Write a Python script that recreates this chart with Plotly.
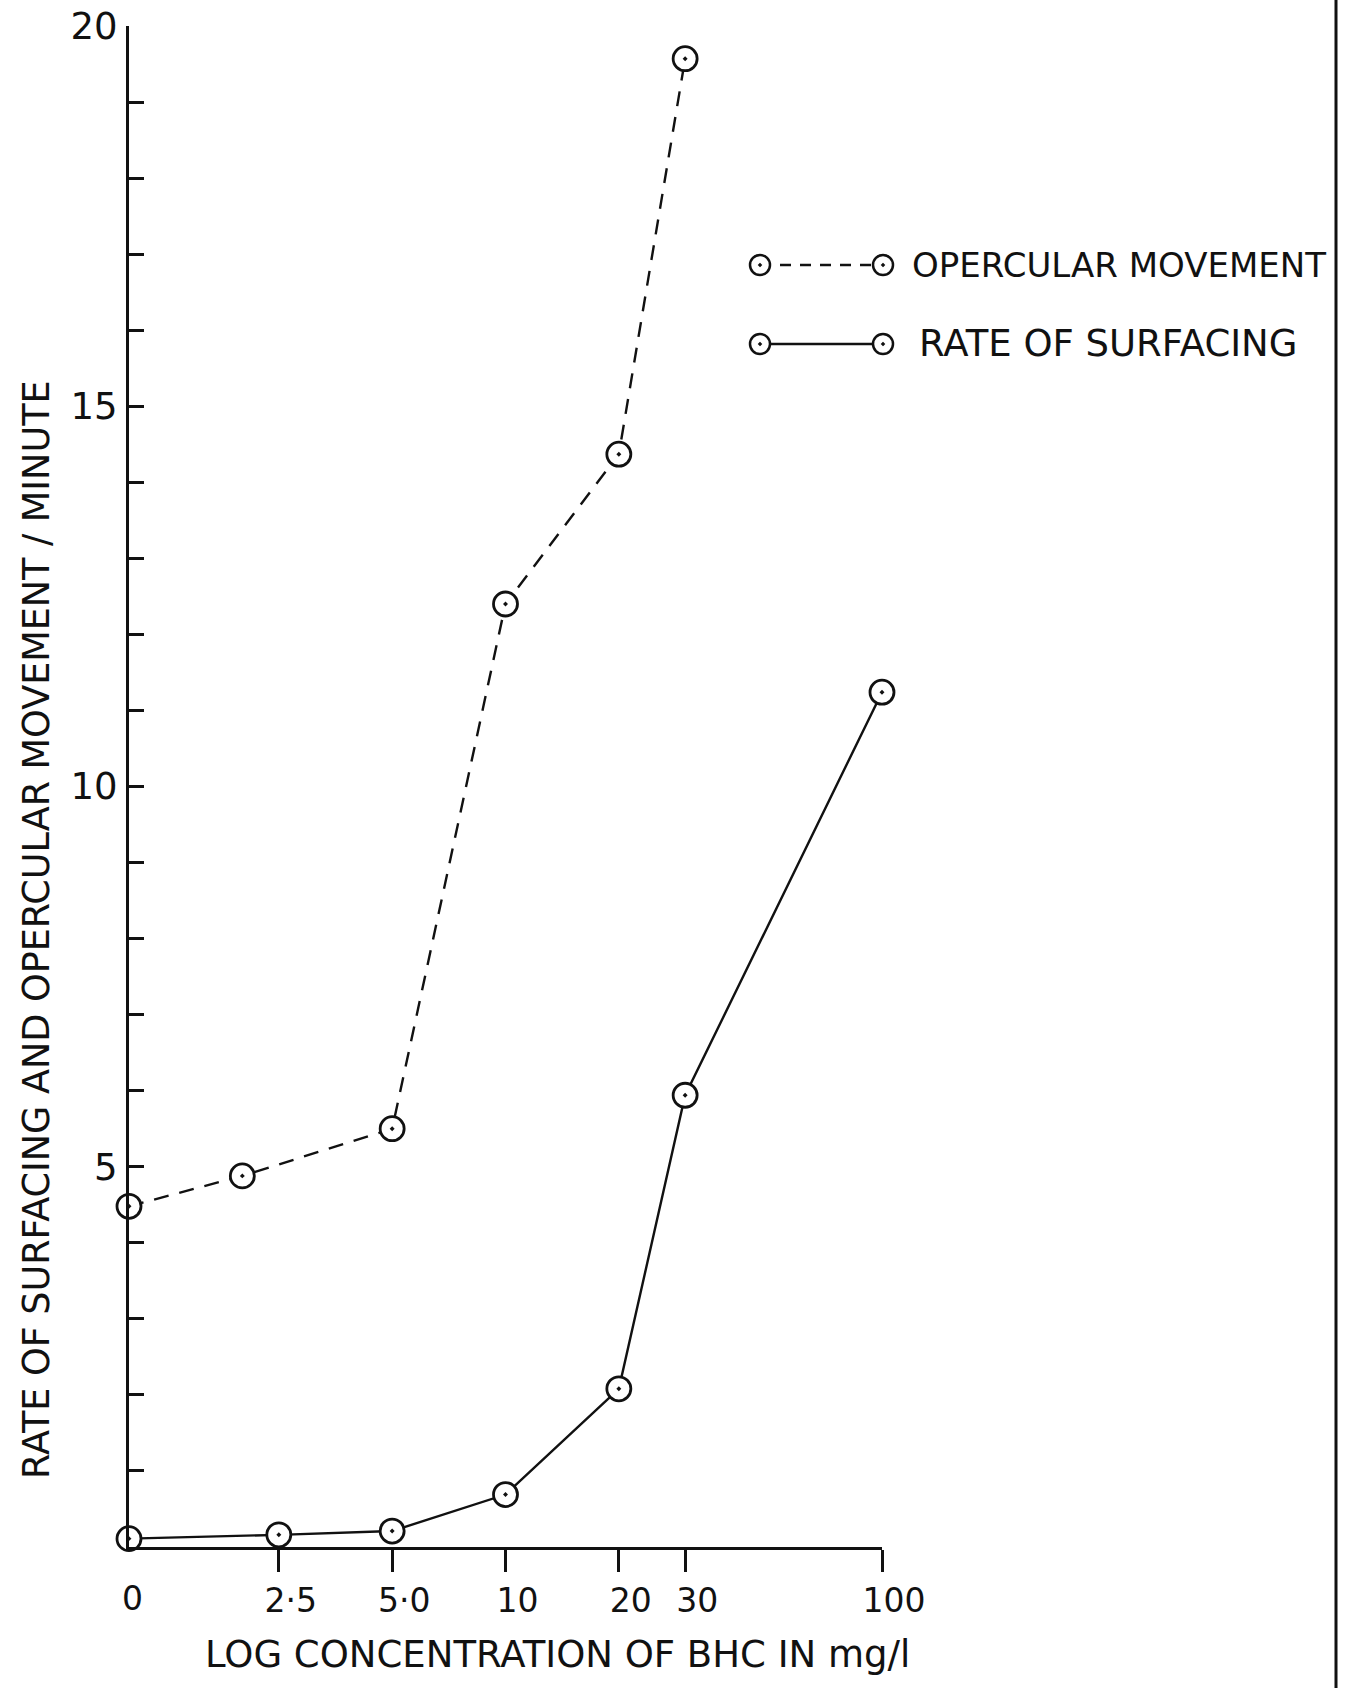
import math
import plotly.graph_objects as go

# BHC concentration (mg/l); the control ("0") is plotted at 1 on the log axis
conc_opercular = [1, 2, 5, 10, 20, 30]
opercular_rate = [4.48, 4.88, 5.50, 12.40, 14.37, 19.57]

conc_surfacing = [1, 2.5, 5, 10, 20, 30, 100]
surfacing_rate = [0.11, 0.16, 0.21, 0.69, 2.08, 5.94, 11.24]

x_tickvals = [2.5, 5, 10, 20, 30, 100]
x_ticktext = ["2·5", "5·0", "10", "20", "30", "100"]
control_label = "0"

y_tickvals = list(range(1, 21))
y_ticktext = [str(v) if v % 5 == 0 else "" for v in y_tickvals]

series_names = ["OPERCULAR MOVEMENT", "RATE OF SURFACING"]

W, H = 1353, 1688
ML, MR, MT, MB = 129, 0, 26, 141
PW = W - ML - MR
PH = H - MT - MB


def px_x(px):
    return (px - ML) / PW


def px_y(py):
    return (H - MB - py) / PH


FONT = "DejaVu Sans, Verdana, sans-serif"
INK = "#111111"

marker_style = dict(symbol="circle-dot", size=24, color="white",
                    line=dict(color=INK, width=2.8))

fig = go.Figure()

# key samples, drawn on an invisible full-page overlay axis (underneath the data)
key_x = [px_x(760), px_x(883)]
key_y = [px_y(265), px_y(344)]
key_marker = dict(symbol="circle-dot", size=20, color="white",
                  line=dict(color=INK, width=2.5))
fig.add_trace(go.Scatter(
    x=key_x, y=[key_y[0]] * 2, mode="lines+markers", cliponaxis=False,
    line=dict(color=INK, width=2.4, dash="11px,9px"),
    marker=key_marker, xaxis="x2", yaxis="y2", hoverinfo="skip"))
fig.add_trace(go.Scatter(
    x=key_x, y=[key_y[1]] * 2, mode="lines+markers", cliponaxis=False,
    line=dict(color=INK, width=2.4),
    marker=key_marker, xaxis="x2", yaxis="y2", hoverinfo="skip"))

fig.add_trace(go.Scatter(
    x=conc_opercular, y=opercular_rate, mode="lines+markers",
    name=series_names[0], cliponaxis=False,
    line=dict(color=INK, width=2.4, dash="15px,11px"),
    marker=marker_style, xaxis="x", yaxis="y"))

fig.add_trace(go.Scatter(
    x=conc_surfacing, y=surfacing_rate, mode="lines+markers",
    name=series_names[1], cliponaxis=False,
    line=dict(color=INK, width=2.4),
    marker=marker_style, xaxis="x", yaxis="y"))

annotations = [
    dict(text=series_names[0], x=px_x(910), y=key_y[0], xref="paper", yref="paper",
         xanchor="left", yanchor="middle", showarrow=False,
         font=dict(family=FONT, size=34, color=INK)),
    dict(text=series_names[1], x=px_x(917), y=key_y[1], xref="paper", yref="paper",
         xanchor="left", yanchor="middle", showarrow=False,
         font=dict(family=FONT, size=37, color=INK)),
    dict(text=control_label, x=math.log10(conc_surfacing[0]), y=px_y(1598),
         xref="x", yref="paper", xanchor="center", yanchor="middle", showarrow=False,
         xshift=3, font=dict(family=FONT, size=33, color=INK)),
    dict(text="LOG CONCENTRATION OF BHC IN mg/l", x=px_x(557), y=px_y(1655),
         xref="paper", yref="paper", xanchor="center", yanchor="middle",
         showarrow=False, font=dict(family=FONT, size=37, color=INK)),
    dict(text="RATE OF SURFACING AND OPERCULAR MOVEMENT / MINUTE",
         x=px_x(36), y=px_y(930), xref="paper", yref="paper", textangle=-90,
         xanchor="center", yanchor="middle", showarrow=False,
         font=dict(family=FONT, size=36.5, color=INK)),
]

fig.update_layout(
    width=W, height=H, autosize=False,
    margin=dict(l=ML, r=MR, t=MT, b=MB, autoexpand=False),
    paper_bgcolor="white", plot_bgcolor="rgba(0,0,0,0)",
    showlegend=False,
    font=dict(family=FONT, color=INK),
    xaxis=dict(type="log", range=[0, 2], domain=[0, px_x(882)], anchor="y",
               showline=True, linewidth=3, linecolor=INK, mirror=False,
               ticks="outside", ticklen=22, tickwidth=3, tickcolor=INK,
               tickvals=x_tickvals, ticktext=x_ticktext,
               ticklabelstandoff=0, ticklabelshift=12,
               tickfont=dict(family=FONT, size=33, color=INK),
               showgrid=False, zeroline=False),
    yaxis=dict(range=[0, 20], domain=[0, 1], anchor="x",
               showline=True, linewidth=3, linecolor=INK,
               ticks="inside", ticklen=15, tickwidth=3, tickcolor=INK,
               tickvals=y_tickvals, ticktext=y_ticktext,
               ticklabelstandoff=1,
               tickfont=dict(family=FONT, size=37, color=INK),
               showgrid=False, zeroline=False),
    xaxis2=dict(range=[0, 1], domain=[0, 1], anchor="y2", visible=False),
    yaxis2=dict(range=[0, 1], domain=[0, 1], anchor="x2", visible=False),
    annotations=annotations,
    shapes=[dict(type="line", xref="paper", yref="paper",
                 x0=px_x(1336), x1=px_x(1336), y0=px_y(H), y1=px_y(0),
                 line=dict(color=INK, width=3))],
)

fig.write_html("out.html", config={"responsive": False})
